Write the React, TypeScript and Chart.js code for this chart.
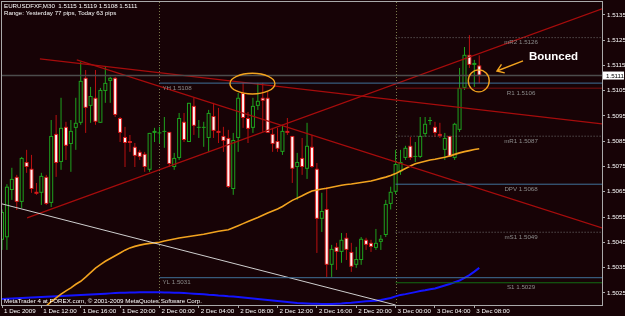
import React, { useEffect, useRef } from "react";
import { Chart, registerables } from "chart.js";

Chart.register(...registerables);

const FONT = "'Liberation Sans', Arial, sans-serif";

// ---- candles (EURUSD M30, bar 0 = 1 Dec 08:00) ----
const opens = [
  1.5046, 1.5047, 1.50657, 1.50709, 1.5061, 1.50768, 1.50741, 1.5065, 1.50646, 1.50709,
  1.50606, 1.50879, 1.50768, 1.50907, 1.50839, 1.50903, 1.50923, 1.51101, 1.5099, 1.51022,
  1.50923, 1.51049, 1.51089, 1.51101, 1.50942, 1.50867, 1.50851, 1.50828, 1.50808, 1.508,
  1.50737, 1.50883, 1.50883, 1.50887, 1.50887, 1.50748, 1.50784, 1.50927, 1.50847, 1.5099,
  1.50905, 1.50903, 1.50863, 1.5095, 1.50891, 1.50871, 1.50863, 1.50661, 1.50863, 1.51041,
  1.50942, 1.50903, 1.5099, 1.51022, 1.51022, 1.50879, 1.50851, 1.50808, 1.50891, 1.50871,
  1.50748, 1.50784, 1.50741, 1.50828, 1.50741, 1.50543, 1.50582, 1.50361, 1.50432, 1.50412,
  1.50468, 1.50412, 1.50361, 1.5038, 1.5046, 1.50448, 1.50428, 1.50452, 1.50479, 1.50602,
  1.5065, 1.5073, 1.50784, 1.50832, 1.50788, 1.50788, 1.50879, 1.50932, 1.50907, 1.50879,
  1.50816, 1.50871, 1.50784, 1.50895, 1.51061, 1.51192, 1.51152, 1.5115,
];
const highs = [
  1.5058, 1.5068, 1.50745, 1.50717, 1.50788, 1.50816, 1.50796, 1.50685, 1.50725, 1.50717,
  1.50934, 1.50954, 1.51022, 1.50927, 1.50934, 1.51022, 1.51164, 1.51132, 1.51065, 1.51132,
  1.51061, 1.51144, 1.51105, 1.51105, 1.50946, 1.50907, 1.50875, 1.50843, 1.50816, 1.50808,
  1.50883, 1.50903, 1.50907, 1.50946, 1.50887, 1.50804, 1.50962, 1.50962, 1.51002, 1.51022,
  1.50934, 1.50927, 1.50974, 1.51002, 1.50982, 1.50907, 1.50895, 1.50883, 1.51041, 1.51081,
  1.50966, 1.51022, 1.51081, 1.51081, 1.51045, 1.50903, 1.50903, 1.50915, 1.50942, 1.50871,
  1.50804, 1.50863, 1.50923, 1.50875, 1.50764, 1.50646, 1.50669, 1.5044, 1.50448, 1.50487,
  1.50487, 1.50448, 1.50432, 1.50471, 1.50468, 1.5046, 1.50503, 1.50479, 1.50618, 1.5067,
  1.50816, 1.50816, 1.50832, 1.50867, 1.50847, 1.50946, 1.50946, 1.50946, 1.50927, 1.50923,
  1.50883, 1.50871, 1.50923, 1.5114, 1.51223, 1.5127, 1.51172, 1.5119,
];
const lows = [
  1.5042, 1.5042, 1.50618, 1.50578, 1.50586, 1.50725, 1.50646, 1.50638, 1.50598, 1.50598,
  1.5059, 1.50709, 1.50737, 1.50776, 1.50729, 1.50816, 1.50915, 1.50883, 1.50923, 1.50915,
  1.50923, 1.51002, 1.51002, 1.50946, 1.50847, 1.50748, 1.50808, 1.50748, 1.50776, 1.50729,
  1.50729, 1.50847, 1.50843, 1.50824, 1.50748, 1.50737, 1.50776, 1.50847, 1.50847, 1.50875,
  1.50863, 1.50828, 1.50808, 1.50863, 1.50843, 1.50808, 1.50665, 1.50638, 1.50808, 1.50903,
  1.50843, 1.50883, 1.50974, 1.50887, 1.50883, 1.50808, 1.50808, 1.50796, 1.50875, 1.50685,
  1.50618, 1.50717, 1.50701, 1.50745, 1.50408, 1.50491, 1.50313, 1.50313, 1.50341, 1.50369,
  1.5038, 1.50333, 1.50349, 1.50361, 1.5042, 1.50412, 1.5042, 1.5042, 1.50471, 1.5058,
  1.5064, 1.50717, 1.50776, 1.50776, 1.50768, 1.50784, 1.50867, 1.50915, 1.50867, 1.50863,
  1.50776, 1.50788, 1.50776, 1.50887, 1.51053, 1.5114, 1.51065, 1.5108,
];
const closes = [
  1.5057, 1.5067, 1.50701, 1.5061, 1.50784, 1.50748, 1.50661, 1.50642, 1.50713, 1.50602,
  1.50871, 1.50764, 1.50903, 1.50832, 1.50891, 1.50923, 1.51089, 1.50982, 1.51029, 1.50927,
  1.51053, 1.51081, 1.51101, 1.50954, 1.50883, 1.50843, 1.50843, 1.50792, 1.50788, 1.50748,
  1.50883, 1.50891, 1.50885, 1.50891, 1.5076, 1.50784, 1.50942, 1.50855, 1.51002, 1.50911,
  1.50907, 1.50907, 1.50962, 1.50891, 1.50883, 1.50851, 1.50669, 1.50855, 1.51022, 1.50942,
  1.50899, 1.5099, 1.5101, 1.5101, 1.50883, 1.50839, 1.5082, 1.50891, 1.50883, 1.50741,
  1.50768, 1.50748, 1.50832, 1.50748, 1.50543, 1.50574, 1.50361, 1.50424, 1.50412, 1.5046,
  1.5042, 1.50353, 1.50384, 1.50464, 1.5044, 1.50432, 1.50448, 1.50464, 1.50602, 1.5065,
  1.5076, 1.50768, 1.50824, 1.50784, 1.50792, 1.50871, 1.50919, 1.50934, 1.50883, 1.50871,
  1.50863, 1.50788, 1.50919, 1.51061, 1.51192, 1.51152, 1.5116, 1.5111,
];

// ---- moving averages ----
const maOrange: (number | null)[] = [
  null, null, null, null, null, null, null, null, 1.5018, 1.50198,
  1.50215, 1.5023, 1.50245, 1.50258, 1.5027, 1.50284, 1.50296, 1.50312, 1.5033, 1.50348,
  1.50362, 1.50375, 1.50386, 1.50397, 1.50408, 1.50419, 1.50428, 1.50434, 1.50439, 1.50443,
  1.50446, 1.50448, 1.5045, 1.50455, 1.50459, 1.50463, 1.50467, 1.5047, 1.50473, 1.50476,
  1.50479, 1.50482, 1.50486, 1.5049, 1.50494, 1.50497, 1.505, 1.50508, 1.50516, 1.50524,
  1.50532, 1.5054, 1.50548, 1.50557, 1.50566, 1.50574, 1.50582, 1.50592, 1.50604, 1.50616,
  1.50625, 1.50634, 1.50644, 1.50653, 1.50657, 1.50661, 1.50664, 1.50668, 1.50672, 1.50676,
  1.50679, 1.50681, 1.50684, 1.50687, 1.5069, 1.50693, 1.50698, 1.50703, 1.50708, 1.50714,
  1.50722, 1.50732, 1.50742, 1.50752, 1.50761, 1.50766, 1.50771, 1.50776, 1.50779, 1.50783,
  1.50787, 1.50792, 1.50798, 1.50804, 1.50809, 1.50813, 1.50817, 1.5082,
];
const maBlue = [
  1.50226, 1.50227, 1.50228, 1.50229, 1.5023, 1.50231, 1.50232, 1.50233, 1.50234, 1.50235,
  1.50236, 1.50237, 1.50238, 1.50239, 1.5024, 1.50241, 1.50242, 1.50243, 1.50244, 1.50245,
  1.50246, 1.50247, 1.50248, 1.50249, 1.5025, 1.5025, 1.50251, 1.50251, 1.50252, 1.50252,
  1.50252, 1.50252, 1.50252, 1.50251, 1.50251, 1.5025, 1.5025, 1.50249, 1.50248, 1.50247,
  1.50246, 1.50245, 1.50243, 1.50242, 1.5024, 1.50239, 1.50237, 1.50236, 1.50234, 1.50232,
  1.5023, 1.50228, 1.50226, 1.50224, 1.50222, 1.5022, 1.50218, 1.50216, 1.50214, 1.50212,
  1.5021, 1.50209, 1.50208, 1.50207, 1.50207, 1.50206, 1.50206, 1.50206, 1.50207, 1.50208,
  1.5021, 1.50211, 1.50213, 1.50215, 1.50217, 1.50218, 1.50219, 1.50222, 1.50226, 1.5023,
  1.50236, 1.50242, 1.50245, 1.50249, 1.50253, 1.50257, 1.5026, 1.50264, 1.50267, 1.50273,
  1.50279, 1.50285, 1.50292, 1.50299, 1.50309, 1.5032, 1.50334, 1.50349,
];

// ---- axes ----
const timeTickBars = [0, 8, 16, 24, 32, 40, 48, 56, 64, 72, 80, 88, 96];
const timeTickLabels = [
  "1 Dec 2009", "1 Dec 12:00", "1 Dec 16:00", "1 Dec 20:00", "2 Dec 00:00", "2 Dec 04:00",
  "2 Dec 08:00", "2 Dec 12:00", "2 Dec 16:00", "2 Dec 20:00", "3 Dec 00:00", "3 Dec 04:00", "3 Dec 08:00",
];
const priceTicks = [1.5025, 1.5035, 1.5045, 1.5055, 1.5065, 1.5075, 1.5085, 1.5095, 1.5105, 1.5115, 1.5125, 1.5135];
const X_MIN = 0;
const X_MAX = 121.95;
const Y_MIN = 1.50202;
const Y_MAX = 1.51401;

// ---- levels & objects ----
const separatorBars = [32, 80];
const bidPrice = 1.5111;
const yesterdayNames = ["YH", "YL"];
const yesterdayPrices = [1.5108, 1.5031];
const pivotNames = ["mR2", "R1", "mR1", "DPV", "mS1", "S1"];
const pivotPrices = [1.5126, 1.5106, 1.5087, 1.5068, 1.5049, 1.5029];
const pivotStartBar = 80;
const pivotLabelBar = 105.5;
const trendRed1 = [{ x: 7.7, y: 1.51176 }, { x: 121.95, y: 1.50919 }];
const trendRed2 = [{ x: 15.2, y: 1.51172 }, { x: 121.95, y: 1.50507 }];
const trendRed3 = [{ x: 5.1, y: 1.50547 }, { x: 121.95, y: 1.51374 }];
const trendWhite = [{ x: 0, y: 1.50602 }, { x: 80, y: 1.50202 }];
const ellipses = [
  { x: 50.9, y: 1.51078, rx: 4.57, ry: 0.00041 },
  { x: 96.9, y: 1.51089, rx: 2.13, ry: 0.000435 },
];
const arrowFrom = { x: 105.9, y: 1.51168 };
const arrowTo = { x: 100.6, y: 1.51128 };
const noteText = { x: 107.1, y: 1.51184, text: "Bounced" };

const C = {
  bg: "#170306",
  frame: "#a9a9a9",
  bull: "#1ea21e",
  bearEdge: "#d41a1a",
  bearFill: "#fff2f2",
  bearWick: "#b81010",
  trend: "#a60c0c",
  blueLevel: "#40729a",
  s1: "#136b13",
  r1: "#7c1010",
  dot: "#707070",
  sep: "#7a7a4a",
  orange: "#f2a31f",
  blue: "#1414ff",
  white: "#cfcfcf",
  bid: "#4c4c4c",
  label: "#8c8c8c",
};

const pivotColors = [C.dot, C.r1, C.dot, C.blueLevel, C.dot, C.s1];
const pivotDash = [[1, 2], [], [1, 2], [], [1, 2], []];

function lineDs(data: { x: number; y: number }[], color: string, width: number, dash: number[] = []) {
  return {
    type: "line" as const,
    data,
    borderColor: color,
    borderWidth: width,
    borderDash: dash,
    pointRadius: 0,
    tension: 0,
    fill: false,
  };
}

const overlay = {
  id: "mtOverlay",
  beforeDraw(chart: any) {
    const { ctx, width, height } = chart;
    ctx.save();
    ctx.fillStyle = C.bg;
    ctx.fillRect(0, 0, width, height);
    ctx.restore();
  },
  beforeDatasetsDraw(chart: any) {
    const { ctx, chartArea: a } = chart;
    const xs = chart.scales.x;
    const ys = chart.scales.y;
    ctx.save();
    ctx.beginPath();
    ctx.rect(a.left, a.top, a.right - a.left, a.bottom - a.top);
    ctx.clip();
    // period separators
    ctx.strokeStyle = C.sep;
    ctx.lineWidth = 1;
    ctx.setLineDash([1, 2]);
    for (const b of separatorBars) {
      const px = Math.round(xs.getPixelForValue(b)) + 0.5;
      ctx.beginPath();
      ctx.moveTo(px, a.top);
      ctx.lineTo(px, a.bottom);
      ctx.stroke();
    }
    ctx.setLineDash([]);
    // candles
    for (let i = 0; i < opens.length; i++) {
      const cx = xs.getPixelForValue(i);
      const yo = ys.getPixelForValue(opens[i]);
      const yc = ys.getPixelForValue(closes[i]);
      const yh = ys.getPixelForValue(highs[i]);
      const yl = ys.getPixelForValue(lows[i]);
      const bull = closes[i] >= opens[i];
      ctx.fillStyle = bull ? C.bull : C.bearWick;
      ctx.fillRect(cx - 0.5, yh, 1, yl - yh);
      const top = Math.min(yo, yc);
      const h = Math.max(1, Math.abs(yo - yc));
      ctx.fillStyle = bull ? C.bull : C.bearEdge;
      ctx.fillRect(cx - 2, top, 4, h);
      if (h > 2) {
        ctx.fillStyle = bull ? C.bg : C.bearFill;
        ctx.fillRect(cx - 1, top + 1, 2, h - 2);
      }
    }
    ctx.restore();
  },
  afterDatasetsDraw(chart: any) {
    const { ctx, chartArea: a } = chart;
    const xs = chart.scales.x;
    const ys = chart.scales.y;
    ctx.save();
    ctx.beginPath();
    ctx.rect(a.left, a.top, a.right - a.left, a.bottom - a.top);
    ctx.clip();
    ctx.textBaseline = "middle";
    ctx.font = `6.2px ${FONT}`;
    ctx.fillStyle = C.label;
    // yesterday labels
    yesterdayNames.forEach((n, k) => {
      ctx.textAlign = "left";
      ctx.fillText(`${n} ${yesterdayPrices[k].toFixed(4)}`, xs.getPixelForValue(separatorBars[0]) + 3, ys.getPixelForValue(yesterdayPrices[k]) + 5);
    });
    // pivot labels
    pivotNames.forEach((n, k) => {
      ctx.textAlign = "center";
      ctx.fillText(`${n} ${pivotPrices[k].toFixed(4)}`, xs.getPixelForValue(pivotLabelBar), ys.getPixelForValue(pivotPrices[k]) + 5);
    });
    // ellipses
    ctx.strokeStyle = C.orange;
    ctx.lineWidth = 1.4;
    for (const e of ellipses) {
      const cx = xs.getPixelForValue(e.x);
      const cy = ys.getPixelForValue(e.y);
      const rx = Math.abs(xs.getPixelForValue(e.x + e.rx) - cx);
      const ry = Math.abs(ys.getPixelForValue(e.y + e.ry) - cy);
      ctx.beginPath();
      ctx.ellipse(cx, cy, rx, ry, 0, 0, Math.PI * 2);
      ctx.stroke();
    }
    // arrow
    const x1 = xs.getPixelForValue(arrowFrom.x);
    const y1 = ys.getPixelForValue(arrowFrom.y);
    const x2 = xs.getPixelForValue(arrowTo.x);
    const y2 = ys.getPixelForValue(arrowTo.y);
    const ang = Math.atan2(y1 - y2, x1 - x2);
    ctx.beginPath();
    ctx.moveTo(x1, y1);
    ctx.lineTo(x2, y2);
    ctx.moveTo(x2 + 8 * Math.cos(ang - 0.6), y2 + 8 * Math.sin(ang - 0.6));
    ctx.lineTo(x2, y2);
    ctx.lineTo(x2 + 8 * Math.cos(ang + 0.6), y2 + 8 * Math.sin(ang + 0.6));
    ctx.stroke();
    // note text
    ctx.fillStyle = "#ffffff";
    ctx.font = `bold 11.5px ${FONT}`;
    ctx.textAlign = "left";
    ctx.fillText(noteText.text, xs.getPixelForValue(noteText.x), ys.getPixelForValue(noteText.y));
    ctx.restore();
  },
  afterDraw(chart: any) {
    const { ctx, chartArea: a } = chart;
    const ys = chart.scales.y;
    ctx.save();
    ctx.strokeStyle = C.frame;
    ctx.lineWidth = 1;
    ctx.strokeRect(a.left - 0.5, a.top - 0.5, a.right - a.left + 1, a.bottom - a.top + 1);
    ctx.fillStyle = "#ffffff";
    ctx.font = `6.2px ${FONT}`;
    ctx.textBaseline = "middle";
    ctx.textAlign = "left";
    ctx.fillText(`EURUSDFXF,M30  ${opens[97].toFixed(4)} ${highs[97].toFixed(4)} ${lows[97].toFixed(4)} ${closes[97].toFixed(4)}`, a.left + 2, a.top + 4.5);
    ctx.fillText("Range: Yesterday 77 pips, Today 63 pips", a.left + 2, a.top + 11.5);
    ctx.fillText("MetaTrader 4 at FOREX.com, \u00a9 2001-2009 MetaQuotes Software Corp.", a.left + 2, a.bottom - 4);
    // bid box on price axis
    const by = ys.getPixelForValue(bidPrice);
    ctx.fillStyle = "#ffffff";
    ctx.fillRect(a.right + 1, by - 4, 21, 8);
    ctx.fillStyle = "#000000";
    ctx.fillText(bidPrice.toFixed(4), a.right + 4, by + 0.5);
    ctx.restore();
  },
};

export default function App() {
  const ref = useRef<HTMLCanvasElement>(null);
  useEffect(() => {
    const orangePts = maOrange
      .map((v, i) => (v == null ? null : { x: i, y: v }))
      .filter((p) => p !== null) as { x: number; y: number }[];
    const bluePts = maBlue.map((v, i) => ({ x: i, y: v }));
    const datasets: any[] = [
      lineDs([{ x: X_MIN, y: bidPrice }, { x: X_MAX, y: bidPrice }], C.bid, 1.5),
      ...yesterdayPrices.map((p) => lineDs([{ x: separatorBars[0], y: p }, { x: X_MAX, y: p }], C.blueLevel, 1)),
      ...pivotPrices.map((p, k) => lineDs([{ x: pivotStartBar, y: p }, { x: X_MAX, y: p }], pivotColors[k], 1, pivotDash[k])),
      lineDs(trendWhite, C.white, 1),
      lineDs(trendRed1, C.trend, 1.2),
      lineDs(trendRed2, C.trend, 1.2),
      lineDs(trendRed3, C.trend, 1.2),
      lineDs(orangePts, C.orange, 1.6),
      lineDs(bluePts, C.blue, 2),
    ];
    const chart = new Chart(ref.current!, {
      type: "line",
      data: { datasets },
      options: {
        responsive: false,
        animation: false,
        devicePixelRatio: 1,
        layout: { padding: { left: 2, top: 2, right: 0, bottom: 0 } },
        plugins: { legend: { display: false }, tooltip: { enabled: false } },
        scales: {
          x: {
            type: "linear",
            min: X_MIN,
            max: X_MAX,
            afterBuildTicks: (s: any) => {
              s.ticks = timeTickBars.map((v) => ({ value: v }));
            },
            afterFit: (s: any) => {
              s.height = 11;
              s.paddingLeft = 0;
              s.paddingRight = 0;
            },
            grid: { drawOnChartArea: false, drawTicks: true, tickLength: 3, color: C.frame },
            border: { display: false },
            ticks: {
              color: "#ffffff",
              font: { family: FONT, size: 6.2 },
              align: "start",
              labelOffset: 2,
              padding: 0,
              maxRotation: 0,
              autoSkip: false,
              callback: (_v: any, i: number) => timeTickLabels[i] ?? "",
            },
          },
          y: {
            type: "linear",
            position: "right",
            min: Y_MIN,
            max: Y_MAX,
            afterBuildTicks: (s: any) => {
              s.ticks = priceTicks.map((v) => ({ value: v }));
            },
            afterFit: (s: any) => {
              s.width = 23;
              s.paddingTop = 0;
              s.paddingBottom = 0;
            },
            grid: { drawOnChartArea: false, drawTicks: true, tickLength: 3, color: C.frame },
            border: { display: false },
            ticks: {
              color: "#ffffff",
              font: { family: FONT, size: 6.2 },
              padding: 2,
              autoSkip: false,
              callback: (v: any) => Number(v).toFixed(4),
            },
          },
        },
      } as any,
      plugins: [overlay],
    });
    return () => chart.destroy();
  }, []);
  return (
    <div style={{ position: "fixed", left: 0, top: 0, width: 625, height: 316, background: C.bg }}>
      <canvas ref={ref} width={625} height={316} style={{ display: "block", width: 625, height: 316 }} />
    </div>
  );
}
